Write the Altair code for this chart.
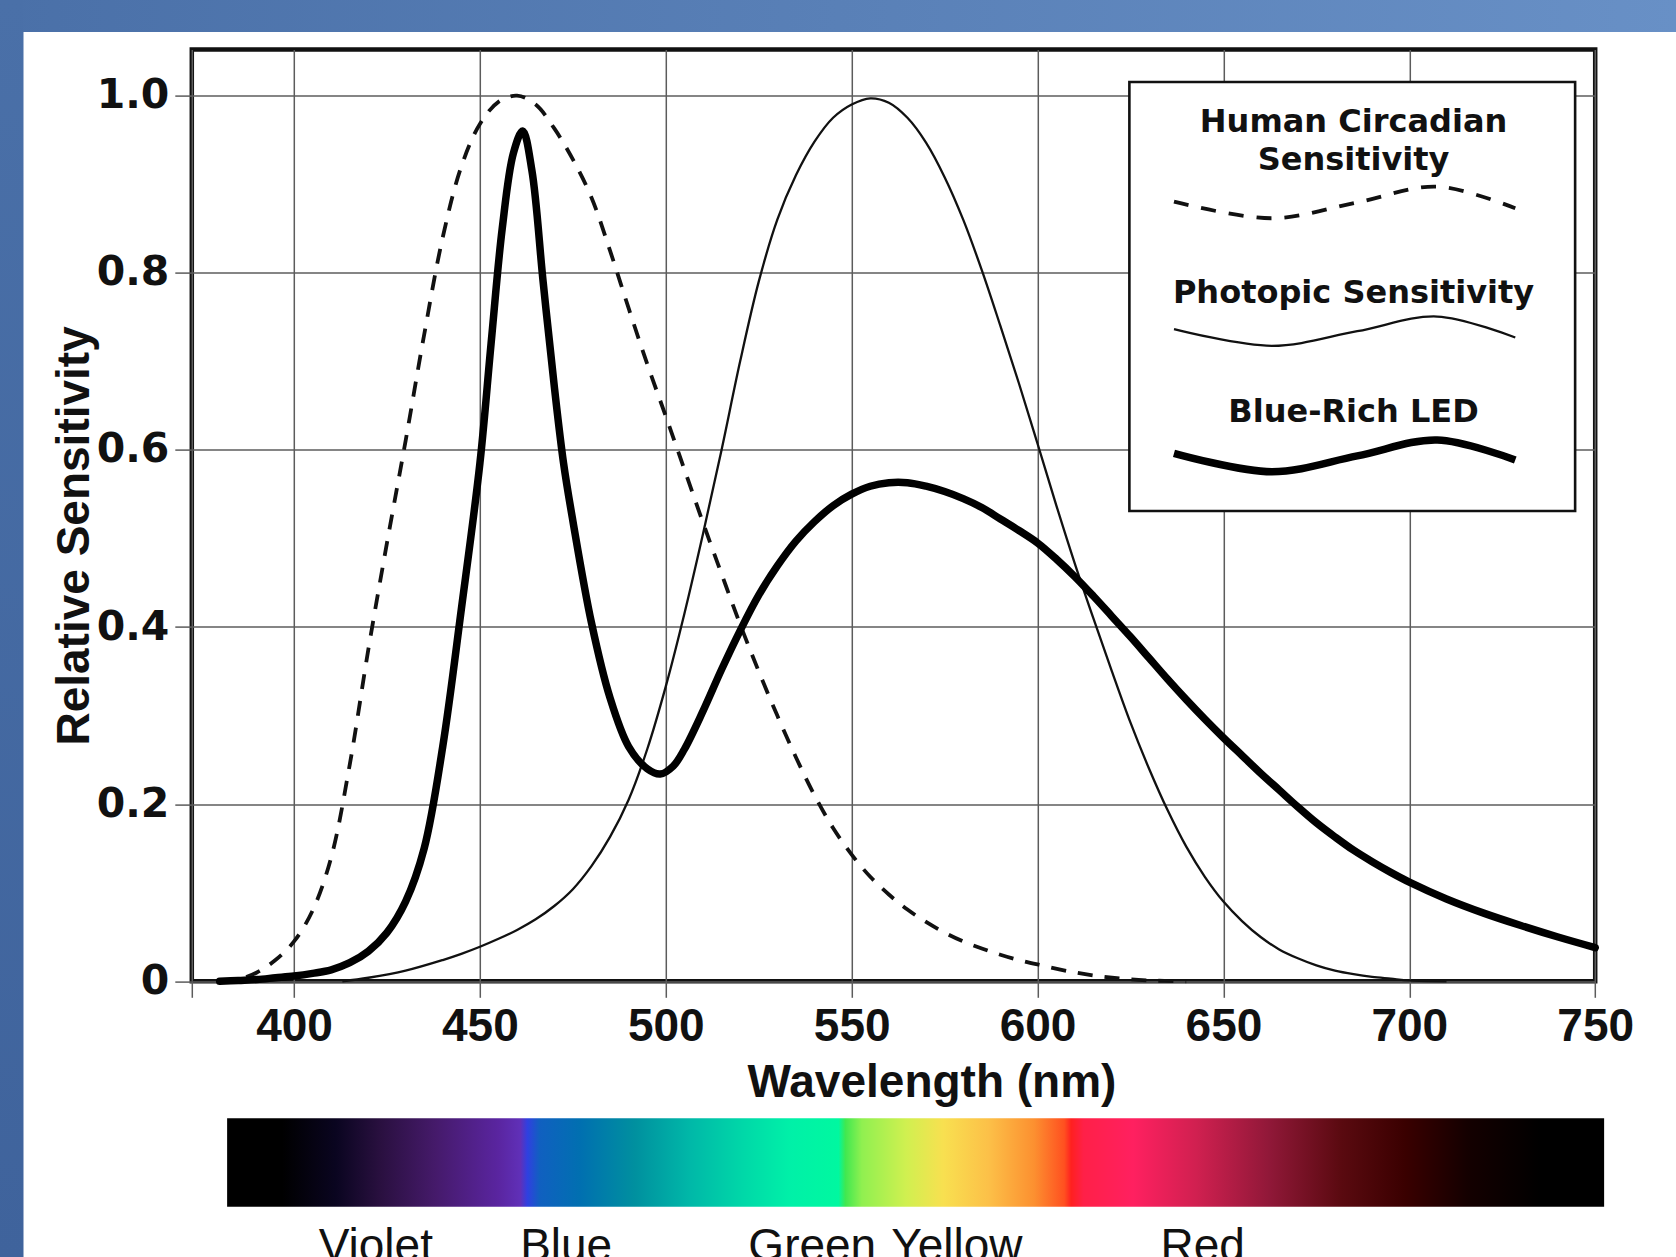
import altair as alt
import pandas as pd

# ---------------- data ----------------
CIRC_WL = [380, 385, 390, 395, 400, 405, 410, 415, 420, 425, 430, 435, 440, 445, 450, 455, 460,
           465, 470, 475, 480, 485, 490, 495, 500, 505, 510, 515, 520, 525, 530, 535, 540, 545,
           550, 555, 560, 565, 570, 575, 580, 585, 590, 595, 600, 610, 620, 630, 640]
CIRC = [0.0, 0.002, 0.01, 0.024, 0.045, 0.08, 0.14, 0.245, 0.375, 0.495, 0.61, 0.73, 0.84,
        0.92, 0.968, 0.993, 1.0, 0.99, 0.963, 0.928, 0.885, 0.825, 0.76, 0.697, 0.638, 0.578,
        0.518, 0.46, 0.403, 0.35, 0.30, 0.253, 0.21, 0.173, 0.143, 0.118, 0.098, 0.081, 0.067,
        0.055, 0.045, 0.037, 0.03, 0.024, 0.019, 0.01, 0.004, 0.001, 0.0]

LED_WL = [380, 385, 390, 395, 400, 405, 410, 415, 420, 425, 430, 435, 440, 445, 450, 453, 456,
          459, 461.5, 464, 467, 470, 472.5, 475, 480, 485, 490, 495, 498.5, 502, 505, 510, 515,
          520, 525, 530, 535, 540, 545, 550, 555, 560, 565, 570, 575, 580, 585, 590, 595, 600,
          605, 610, 615, 620, 625, 630, 635, 640, 645, 650, 655, 660, 665, 670, 675, 680, 685,
          690, 695, 700, 710, 720, 730, 740, 750]
LED = [0.0, 0.001, 0.002, 0.004, 0.006, 0.009, 0.013, 0.021, 0.034, 0.055, 0.09, 0.15, 0.265,
       0.42, 0.585, 0.72, 0.85, 0.935, 0.96, 0.915, 0.79, 0.672, 0.585, 0.52, 0.405, 0.32,
       0.265, 0.24, 0.234, 0.243, 0.262, 0.305, 0.352, 0.396, 0.436, 0.469, 0.497, 0.519,
       0.537, 0.55, 0.559, 0.563, 0.563, 0.559, 0.553, 0.545, 0.535, 0.522, 0.509, 0.495,
       0.477, 0.457, 0.435, 0.412, 0.389, 0.365, 0.341, 0.318, 0.296, 0.275, 0.255, 0.235,
       0.216, 0.197, 0.179, 0.163, 0.148, 0.135, 0.123, 0.112, 0.093, 0.077, 0.063, 0.05, 0.038]

PHOT_WL = [413, 420, 430, 440, 445, 450, 455, 460, 465, 470, 475, 480, 485, 490, 495, 500, 505,
           510, 515, 520, 525, 530, 535, 540, 545, 550, 555, 560, 565, 570, 575, 580, 585, 590,
           595, 600, 605, 610, 615, 620, 625, 630, 635, 640, 645, 650, 655, 660, 665, 670, 675,
           680, 685, 690, 695, 700, 710]
PHOT = [0.0, 0.004, 0.012, 0.024, 0.031, 0.039, 0.048, 0.058, 0.07, 0.085, 0.104, 0.13, 0.163,
        0.205, 0.262, 0.333, 0.415, 0.505, 0.60, 0.70, 0.79, 0.86, 0.91, 0.948, 0.975, 0.99,
        0.997, 0.992, 0.975, 0.947, 0.908, 0.86, 0.803, 0.74, 0.675, 0.607, 0.538, 0.472, 0.41,
        0.35, 0.292, 0.24, 0.193, 0.152, 0.118, 0.09, 0.068, 0.05, 0.036, 0.026, 0.018, 0.012,
        0.008, 0.005, 0.003, 0.001, 0.0]

X_TICKS = [372.5, 400, 450, 500, 550, 600, 650, 700, 750]
Y_TICKS = [0, 0.2, 0.4, 0.6, 0.8, 1.0]

LEGEND_BOX = {"wl": [624.7], "wl2": [744.6], "v": [0.531], "v2": [1.0155]}
LEGEND_TEXT = ["Human Circadian", "Sensitivity", "Photopic Sensitivity", "Blue-Rich LED"]
LEGEND_TEXT_WL = [685.0, 685.0, 685.0, 685.0]
LEGEND_TEXT_V = [0.9593, 0.9161, 0.7663, 0.6319]
SAMPLE_WL = [636.7, 663.0, 686.0, 707.5, 728.5]
SAMPLE_CIRC = [0.8803, 0.8616, 0.8795, 0.8973, 0.8729]
SAMPLE_PHOT = [0.7364, 0.7175, 0.7340, 0.7506, 0.7269]
SAMPLE_LED = [0.5962, 0.5754, 0.5933, 0.6112, 0.5887]

SPECTRUM_BAR = {"wl": [382.0], "wl2": [752.4], "v": [-0.1547], "v2": [-0.2545]}
SPECTRUM_STOPS = [(0.0, "#000000"), (0.04, "#000000"), (0.079, "#0a0520"), (0.112, "#2a1040"),
                  (0.151, "#451a6a"), (0.197, "#5a25a0"), (0.213, "#6030b8"), (0.218, "#3040e0"),
                  (0.227, "#1060c0"), (0.257, "#0070b0"), (0.296, "#00909f"), (0.336, "#00b8a8"),
                  (0.375, "#00d8a8"), (0.408, "#00f0a8"), (0.444, "#00f8a0"), (0.449, "#40e850"),
                  (0.461, "#90f050"), (0.493, "#d0f050"), (0.52, "#f8e050"), (0.553, "#fcc048"),
                  (0.586, "#fc9030"), (0.608, "#ff5020"), (0.613, "#ff2020"), (0.622, "#ff2048"),
                  (0.658, "#ff2060"), (0.704, "#d02050"), (0.757, "#901838"), (0.809, "#5a0a10"),
                  (0.855, "#3a0000"), (0.901, "#140000"), (0.954, "#000000"), (1.0, "#000000")]
SPECTRUM_LABELS = ["Violet", "Blue", "Green", "Yellow", "Red"]
SPECTRUM_LABEL_WL = [422.0, 473.2, 539.4, 578.3, 644.4]
SPECTRUM_LABEL_V = [-0.3155] * 5

# ---------------- layout ----------------
W, H = 1403.4, 931.7
PAD = {"left": 191.8, "top": 49.6, "right": 80.8, "bottom": 275.7}
HELV = "Liberation Sans, Arial, Helvetica, sans-serif"
WIDE = "DejaVu Sans, Verdana, sans-serif"
CURVE = "catmull-rom"

xs = alt.Scale(domain=[372.5, 750], nice=False, zero=False)
ys = alt.Scale(domain=[0, 1.052], nice=False, zero=False)

x_axis = alt.Axis(values=X_TICKS, labelExpr="datum.value < 380 ? '' : datum.label",
                  title="Wavelength (nm)", grid=True, domain=False,
                  tickSize=16, labelPadding=42.7, labelBaseline="alphabetic",
                  labelFont=HELV, labelFontSize=46, labelFontWeight="bold", labelColor="#111",
                  labelOverlap=False, labelFlush=False,
                  titleFont=HELV, titleFontSize=46, titleFontWeight="bold", titleColor="#111",
                  titleX=739.7, titleY=115.4, titleBaseline="alphabetic", titleAlign="center",
                  titleAngle=0)
y_axis = alt.Axis(values=Y_TICKS,
                  labelExpr="datum.value == 0 ? '0' : format(datum.value, '.1f')",
                  title="Relative Sensitivity", grid=True, domain=False,
                  tickSize=17, labelPadding=6, labelAlign="right", labelBaseline="middle",
                  labelFont=WIDE, labelFontSize=41, labelFontWeight="bold", labelColor="#111",
                  labelOverlap=False, labelFlush=False,
                  titleFont=HELV, titleFontSize=46, titleFontWeight="bold", titleColor="#111",
                  titleX=-103.5, titleY=485.8, titleAngle=270, titleAlign="center",
                  titleBaseline="alphabetic")

X = alt.X("wl:Q", scale=xs, axis=x_axis)
Y = alt.Y("v:Q", scale=ys, axis=y_axis)

one = pd.DataFrame({"k": [0]})

top_band = alt.Chart(one).mark_rect(
    color={"gradient": "linear", "x1": 0, "y1": 0, "x2": 1, "y2": 0,
           "stops": [{"offset": 0, "color": "#4a70a8"}, {"offset": 1, "color": "#6890c6"}]}
).encode(x=alt.value(-PAD["left"]), x2=alt.value(1676 - PAD["left"]),
         y=alt.value(-PAD["top"]), y2=alt.value(32 - PAD["top"]))

left_band = alt.Chart(one).mark_rect(
    color={"gradient": "linear", "x1": 0, "y1": 0, "x2": 0, "y2": 1,
           "stops": [{"offset": 0, "color": "#4a70a8"}, {"offset": 1, "color": "#3f639c"}]}
).encode(x=alt.value(-PAD["left"]), x2=alt.value(23.5 - PAD["left"]),
         y=alt.value(-PAD["top"]), y2=alt.value(1257 - PAD["top"]))

legend_box = alt.Chart(pd.DataFrame(LEGEND_BOX)).mark_rect(
    fill="white", stroke="#111", strokeWidth=2.6
).encode(x=X, x2="wl2:Q", y=Y, y2="v2:Q")

phot = alt.Chart(pd.DataFrame({"wl": PHOT_WL, "v": PHOT})).mark_line(
    color="#111", strokeWidth=2.3, interpolate=CURVE).encode(x=X, y=Y)
circ = alt.Chart(pd.DataFrame({"wl": CIRC_WL, "v": CIRC})).mark_line(
    color="#111", strokeWidth=3.8, strokeDash=[15, 12], interpolate=CURVE).encode(x=X, y=Y)
led = alt.Chart(pd.DataFrame({"wl": LED_WL, "v": LED})).mark_line(
    color="#000", strokeWidth=7.5, interpolate=CURVE, strokeCap="round").encode(x=X, y=Y)

legend_text = alt.Chart(pd.DataFrame({"wl": LEGEND_TEXT_WL, "v": LEGEND_TEXT_V,
                                      "t": LEGEND_TEXT})).mark_text(
    font=WIDE, fontSize=32, fontWeight="bold", color="#111", align="center",
    baseline="alphabetic").encode(x=X, y=Y, text="t:N")

s_circ = alt.Chart(pd.DataFrame({"wl": SAMPLE_WL, "v": SAMPLE_CIRC})).mark_line(
    color="#111", strokeWidth=3.8, strokeDash=[15, 13], interpolate=CURVE).encode(x=X, y=Y)
s_phot = alt.Chart(pd.DataFrame({"wl": SAMPLE_WL, "v": SAMPLE_PHOT})).mark_line(
    color="#111", strokeWidth=2.3, interpolate=CURVE).encode(x=X, y=Y)
s_led = alt.Chart(pd.DataFrame({"wl": SAMPLE_WL, "v": SAMPLE_LED})).mark_line(
    color="#000", strokeWidth=7.5, interpolate=CURVE).encode(x=X, y=Y)

spectrum = alt.Chart(pd.DataFrame(SPECTRUM_BAR)).mark_rect(
    color={"gradient": "linear", "x1": 0, "y1": 0, "x2": 1, "y2": 0,
           "stops": [{"offset": o, "color": c} for o, c in SPECTRUM_STOPS]}
).encode(x=X, x2="wl2:Q", y=Y, y2="v2:Q")

spec_labels = alt.Chart(pd.DataFrame({"wl": SPECTRUM_LABEL_WL, "v": SPECTRUM_LABEL_V,
                                      "t": SPECTRUM_LABELS})).mark_text(
    font=HELV, fontSize=46, color="#111", align="center", baseline="alphabetic"
).encode(x=X, y=Y, text="t:N")

chart = alt.layer(
    top_band, left_band, legend_box, phot, circ, led, legend_text,
    s_circ, s_phot, s_led, spectrum, spec_labels
).properties(
    width=W, height=H, padding=PAD,
    autosize=alt.AutoSizeParams(type="none"),
    background="white",
).configure_view(
    stroke="#111", strokeWidth=4.5, fill="white"
).configure_axis(
    gridColor="#5c5c5c", gridWidth=1.5, gridOpacity=1,
    tickColor="#5c5c5c", tickWidth=1.5,
)

chart.save("out.html", embed_options={"renderer": "svg", "actions": False})
